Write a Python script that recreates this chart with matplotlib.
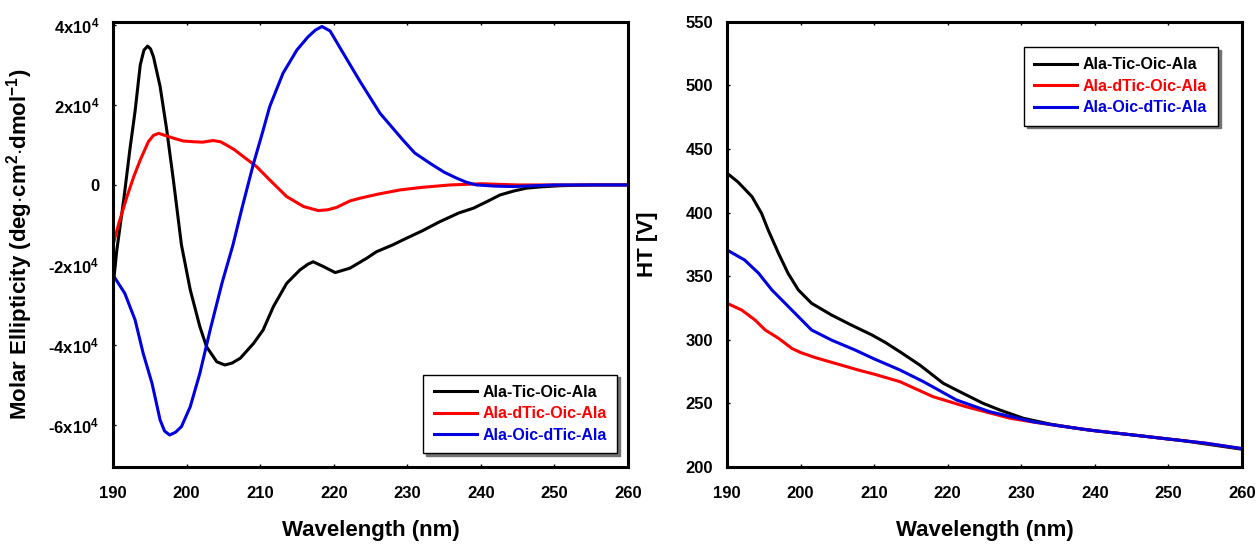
import numpy as np
import matplotlib
matplotlib.use("Agg")
import matplotlib.pyplot as plt

plt.rcParams['font.family'] = ['Liberation Sans', 'DejaVu Sans']
plt.rcParams['font.weight'] = 'bold'
plt.rcParams['axes.labelweight'] = 'bold'
plt.rcParams['axes.unicode_minus'] = False
plt.rcParams['mathtext.fontset'] = 'custom'
plt.rcParams['mathtext.rm'] = 'Liberation Sans:bold'
plt.rcParams['mathtext.it'] = 'Liberation Sans:bold'
plt.rcParams['mathtext.bf'] = 'Liberation Sans:bold'

labels = ['Ala-Tic-Oic-Ala', 'Ala-dTic-Oic-Ala', 'Ala-Oic-dTic-Ala']
colors = ['black', '#ff0000', '#0000e0']

# CD spectra (molar ellipticity)
cd_wl_tic = [190, 190.5, 191.5, 192.3, 193.0, 193.7, 194.2, 194.7, 195.1, 195.5, 195.9,
             196.4, 197.3, 198.2, 199.3, 200.5, 201.8, 202.7, 204.1, 205.2, 206.2, 207.3, 209.1,
             210.4, 211.8, 213.6, 215.4, 216.5, 217.2, 218.6, 220.2, 222.2, 224.5, 225.8, 228,
             229.9, 232, 234.4, 237, 239, 241, 242.6, 244.5, 246.2, 248, 250.7, 255, 260]
cd_tic = [-25500, -16500, -3000, 9000, 18500, 30000, 33700, 34700, 34000, 32000, 28700,
          24600, 13750, 1250, -15000, -26250, -35400, -40400, -44200, -45000, -44500, -43300,
          -39600, -36250, -30400, -24600, -21250, -19800, -19200, -20400, -21900, -20800, -18300,
          -16700, -15000, -13300, -11500, -9200, -7000, -5800, -4000, -2500, -1500, -800, -500,
          -200, 0, 0]

cd_wl_dtic = [190, 190.8, 191.9, 192.8, 193.7, 194.8, 195.5, 196.2, 197.2, 198.2, 199.5, 200.9,
              202.2, 203.6, 204.6, 205.4, 206.5, 207.7, 209.5, 211.3, 213.6, 215.9, 217.9, 219.2,
              220.4, 222.2, 223.6, 226, 229, 232, 235.8, 240, 245, 250, 255, 260]
cd_dtic = [-15000, -9500, -2900, 2000, 6250, 10800, 12400, 12900, 12300, 11700, 11000, 10800,
           10700, 11100, 10800, 10000, 8800, 7100, 4600, 1250, -2900, -5400, -6400, -6200,
           -5600, -4000, -3300, -2300, -1250, -600, 0, 300, 0, 0, 0, 0]

cd_wl_oic = [190, 191.6, 193, 194.1, 195.3, 196.4, 197.0, 197.7, 198.5, 199.3, 200.5, 201.8,
             203.2, 204.8, 206.3, 207.5, 209.1, 210.3, 211.3, 213.1, 215, 216.5, 217.5, 218.4,
             219.5, 221.3, 223.6, 226.3, 229.4, 231, 233.1, 235, 236.7, 238, 239.4, 242, 244.4,
             250, 255, 260]
cd_oic = [-22500, -27100, -33750, -42100, -49600, -58750, -61500, -62500, -61800, -60400,
          -55400, -47100, -36250, -24600, -15000, -6000, 5400, 13000, 19600, 27900, 33750,
          37000, 38700, 39600, 38500, 32900, 25800, 17900, 11250, 8000, 5400, 3200, 1700,
          700, 0, -300, -400, 0, 0, 0]

# HT voltage
ht_wl_tic = [190, 191.5, 193.4, 194.7, 195.6, 197, 198.3, 199.7, 201.5, 204.2, 206.9, 209.7,
             211.5, 213.5, 216.2, 219.4, 222.1, 224.8, 227.1, 230.3, 233.9, 238.4, 245.2, 252, 260]
ht_tic = [431, 424, 412.5, 399.4, 386.3, 368, 352.3, 339.2, 328.7, 319.5, 311.6, 303.8,
          298, 290.6, 280.2, 265.8, 257.9, 250.1, 244.8, 238.3, 233.8, 229.6, 225.2, 220.7, 214]

ht_wl_dtic = [190, 192, 193.8, 195.2, 197, 198.8, 200, 202, 205, 208, 210, 213.5, 218, 222.5,
              228.5, 232, 235, 240, 245, 250, 255, 260]
ht_dtic = [328.7, 323.4, 315.6, 307.7, 301.2, 293.3, 290, 286, 281, 276, 273, 267.1, 255.3,
           247.4, 238.3, 235, 232.5, 228.5, 225.3, 222, 218.8, 214.5]

ht_wl_oic = [190, 192.4, 194.3, 196.1, 197.9, 199.7, 201.5, 204.2, 207.4, 210, 213.5, 216.7,
             221.2, 225.7, 231.6, 235, 240, 245, 250, 255, 260]
ht_oic = [370.6, 362.7, 352.3, 339.2, 328.7, 318.2, 307.7, 299.8, 292, 285, 276.3, 267.1,
          252.7, 243.5, 235.6, 232.5, 228.5, 225.3, 222, 218.8, 214.5]

fig = plt.figure(figsize=(12.56, 5.44), dpi=100)
ax1 = fig.add_axes([0.090, 0.1415, 0.410, 0.8186])
ax2 = fig.add_axes([0.5788, 0.1415, 0.410, 0.8186])

for wl, v, c, lab in zip([cd_wl_tic, cd_wl_dtic, cd_wl_oic], [cd_tic, cd_dtic, cd_oic], colors, labels):
    ax1.plot(wl, v, color=c, lw=2.2, label=lab, solid_joinstyle='round')
for wl, v, c, lab in zip([ht_wl_tic, ht_wl_dtic, ht_wl_oic], [ht_tic, ht_dtic, ht_oic], colors, labels):
    ax2.plot(wl, v, color=c, lw=2.2, label=lab, solid_joinstyle='round')

ax1.set_xlim(190, 260)
ax1.set_ylim(-70500, 40800)
ax1.set_yticks([40000, 20000, 0, -20000, -40000, -60000])
ax1.set_yticklabels([r'$4x10^4$', r'$2x10^4$', '0', r'-$2x10^4$', r'-$4x10^4$', r'-$6x10^4$'])
ax1.set_ylabel(r'Molar Ellipticity (deg$\cdot$cm$^2$$\cdot$dmol$^{-1}$)', fontsize=16)
ax1.yaxis.set_label_coords(-0.152, 0.5)

ax2.set_xlim(190, 260)
ax2.set_ylim(200, 550)
ax2.set_yticks(np.arange(200, 551, 50))
ax2.set_ylabel('HT [V]', fontsize=16)
ax2.yaxis.set_label_coords(-0.134, 0.5)

for ax in (ax1, ax2):
    ax.set_xticks(np.arange(190, 261, 10))
    ax.set_xlabel('Wavelength (nm)', fontsize=16)
    ax.xaxis.set_label_coords(0.5, -0.118)
    ax.tick_params(axis='x', direction='in', length=2, width=1, pad=14, labelsize=12, top=True)
    ax.tick_params(axis='y', direction='in', length=2, width=1, pad=10, labelsize=12)
    for s in ax.spines.values():
        s.set_linewidth(2.2)

leg1 = ax1.legend(loc='lower right', bbox_to_anchor=(0.979, 0.031), borderaxespad=0,
                  fontsize=11.5, labelcolor='linecolor', fancybox=False, edgecolor='black',
                  handlelength=2.7, handletextpad=0.35, labelspacing=0.4, borderpad=0.65,
                  shadow={'ox': 2, 'oy': -2, 'color': '0.45', 'alpha': 1})
leg1.get_frame().set_linewidth(1)
leg1.get_frame().set_alpha(1)

leg2 = ax2.legend(loc='upper right', bbox_to_anchor=(0.953, 0.943), borderaxespad=0,
                  fontsize=11.5, labelcolor='linecolor', fancybox=False, edgecolor='black',
                  handlelength=2.7, handletextpad=0.35, labelspacing=0.4, borderpad=0.65,
                  shadow={'ox': 2, 'oy': -2, 'color': '0.45', 'alpha': 1})
leg2.get_frame().set_linewidth(1)
leg2.get_frame().set_alpha(1)

fig.savefig('out.png', dpi=100)
